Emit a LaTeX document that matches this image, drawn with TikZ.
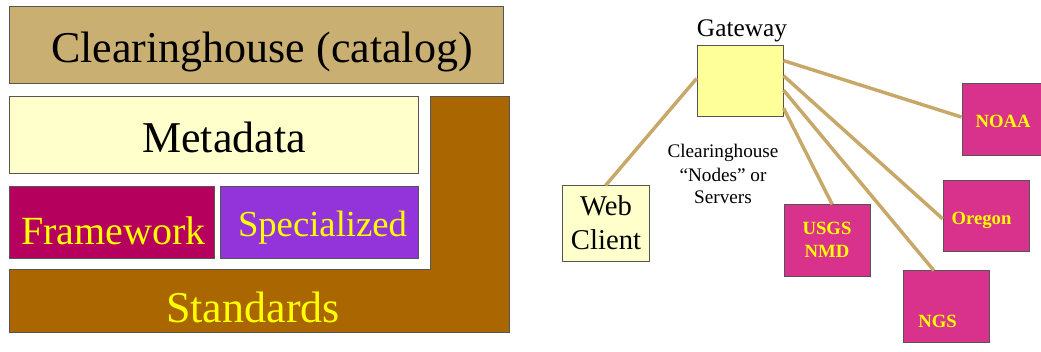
\documentclass[tikz,border=0pt]{standalone}
\usepackage{fontspec}
\setmainfont{Liberation Serif}
\usetikzlibrary{calc,fit}
\definecolor{tanbox}{HTML}{C9AF72}
\definecolor{metafill}{HTML}{FFFFCC}
\definecolor{framefill}{HTML}{B5005E}
\definecolor{specfill}{HTML}{9334DA}
\definecolor{stdfill}{HTML}{AA6600}
\definecolor{nodefill}{HTML}{D9328C}
\definecolor{gwfill}{HTML}{FFFF99}
\definecolor{linkcol}{HTML}{C8A868}
\definecolor{edgegray}{HTML}{555555}
\definecolor{txtyellow}{HTML}{FFFF00}
\begin{document}
\begin{tikzpicture}[x=0.75pt,y=-0.75pt,
  box/.style={draw=edgegray, line width=0.75pt, inner sep=0pt, rectangle},
  link/.style={draw=linkcol, line width=2.6pt},
  bigtxt/.style={anchor=base, font=\fontsize{33}{40}\selectfont},
  coltxt/.style={anchor=base, text=txtyellow},
  smalltxt/.style={anchor=base, text=txtyellow, font=\bfseries\fontsize{14}{17}\selectfont},
  lbl/.style={anchor=base, font=\fontsize{14.4}{17}\selectfont}]
\useasboundingbox (0,0) rectangle (1041,352);
% ---------- left: layer diagram ----------
\node[box, fill=tanbox, fit={(9.5,7) (503,84)}] (ch) {};
\node[bigtxt] (chT) at (262,63) {Clearinghouse (catalog)};
\node[box, fill=metafill, fit={(9.5,97) (418,174)}] (md) {};
\node[bigtxt] (mdT) at (224,153) {Metadata};
\node[box, fill=framefill, fit={(9.5,187) (214,259)}] (fw) {};
\node[coltxt, font=\fontsize{30}{36}\selectfont] (fwT) at (113.5,245) {Framework};
\node[box, fill=specfill, fit={(220,187) (418,259)}] (sp) {};
\node[coltxt, font=\fontsize{27.5}{33}\selectfont] (spT) at (322.5,237) {Specialized};
\draw[draw=edgegray, line width=0.75pt, fill=stdfill]
  (9.5,270) -- (430,270) -- (430,97) -- (509,97) -- (509,332) -- (9.5,332) -- cycle;
\node[coltxt, font=\fontsize{33}{40}\selectfont] (stT) at (253,322) {Standards};
% ---------- right: network ----------
\node[box, fill=gwfill, fit={(697,46) (783,117)}] (gw) {};
\node[anchor=base, font=\fontsize{19}{23}\selectfont] (gwT) at (742,37) {Gateway};
\node[box, fill=metafill, fit={(562,186) (649,262)}] (wc) {};
\node[anchor=base, font=\fontsize{21.5}{25.5}\selectfont] (wcT1) at (606,216) {Web};
\node[anchor=base, font=\fontsize{21.5}{25.5}\selectfont] (wcT2) at (606,250) {Client};
\node[lbl] (cn1) at (723,158) {Clearinghouse};
\node[lbl] (cn2) at (723,182) {``Nodes'' or};
\node[lbl] (cn3) at (723,204) {Servers};
\node[box, fill=nodefill, fit={(784,205) (870,277)}] (usgs) {};
\node[smalltxt] (usgsT1) at (827,235) {USGS};
\node[smalltxt] (usgsT2) at (827,258) {NMD};
\node[box, fill=nodefill, fit={(962,84) (1043,156)}] (noaa) {};
\node[smalltxt] (noaaT) at (1003,128) {NOAA};
\node[box, fill=nodefill, fit={(943,181) (1029,252)}] (or) {};
\node[smalltxt] (orT) at (981.5,225) {Oregon};
\node[box, fill=nodefill, fit={(903,271) (989,342)}] (ngs) {};
\node[smalltxt] (ngsT) at (937.5,327) {NGS};
% connectors
\draw[link] ($(gw.north west)!0.46!(gw.south west)$) -- (wc.north);
\draw[link] ($(gw.north east)!0.21!(gw.south east)$) -- ($(noaa.north west)!0.46!(noaa.south west)$);
\draw[link] ($(gw.north east)!0.42!(gw.south east)$) -- ($(or.north west)!0.53!(or.south west)$);
\draw[link] ($(gw.north east)!0.62!(gw.south east)$) -- ($(ngs.north west)!0.36!(ngs.north east)$);
\draw[link] ($(gw.north east)!0.87!(gw.south east)$) -- ($(usgs.north west)!0.56!(usgs.north east)$);
\end{tikzpicture}
\end{document}
